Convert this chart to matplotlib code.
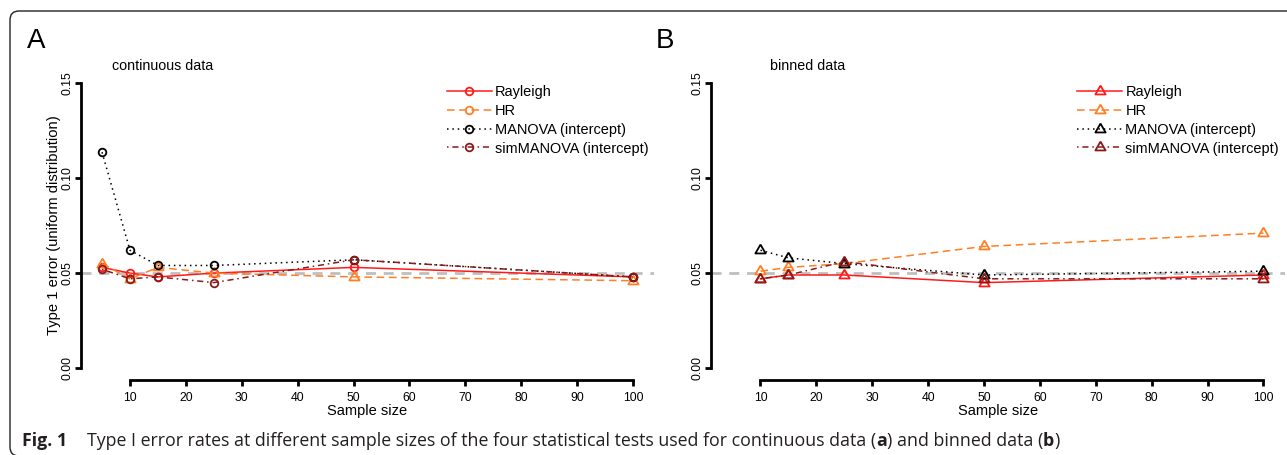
import matplotlib
matplotlib.use("Agg")
import matplotlib.pyplot as plt
from matplotlib.lines import Line2D
from matplotlib.patches import FancyBboxPatch
from matplotlib.transforms import IdentityTransform

# ---------------- data ----------------
sizes_cont = [5, 10, 15, 25, 50, 100]
cont_rayleigh = [0.053, 0.050, 0.048, 0.050, 0.053, 0.048]
cont_hr = [0.055, 0.047, 0.053, 0.050, 0.048, 0.046]
cont_manova = [0.1135, 0.062, 0.054, 0.054, 0.057, 0.048]
cont_simmanova = [0.052, 0.047, 0.048, 0.045, 0.057, 0.048]

sizes_bin = [10, 15, 25, 50, 100]
bin_rayleigh = [0.047, 0.049, 0.049, 0.045, 0.049]
bin_hr = [0.051, 0.053, 0.055, 0.064, 0.071]
bin_manova = [0.062, 0.058, 0.055, 0.049, 0.051]
bin_simmanova = [0.047, 0.049, 0.056, 0.047, 0.047]

series_names = ["Rayleigh", "HR", "MANOVA (intercept)", "simMANOVA (intercept)"]
x_ticks = [10, 20, 30, 40, 50, 60, 70, 80, 90, 100]
y_ticks = [0.00, 0.05, 0.10, 0.15]
y_ticklabels = ["0.00", "0.05", "0.10", "0.15"]
alpha_level = 0.05

# ---------------- style ----------------
colors = ["#FF1A1A", "#FF7F24", "#000000", "#8B1A1A"]
styles = ["-", (0, (5, 3)), (0, (1, 2.5)), (0, (1, 2.5, 4, 2.5))]
TRI = [(0, 1.5551), (1.3468, -0.7776), (-1.3468, -0.7776), (0, 1.5551)]
CIRC_MS = 5.5
TRI_MS = 8.5

plt.rcParams["font.family"] = ["Liberation Sans", "DejaVu Sans"]

W, H = 1287, 455
fig = plt.figure(figsize=(W / 100, H / 100), dpi=100)

ax_left_px = [80.8, 711.3]
ax_w_px = 573.4
ax_bottom = 1 - 379.7 / H
ax_h = (379.7 - 71.3) / H

panels = [
    ("A", "continuous data", sizes_cont,
     [cont_rayleigh, cont_hr, cont_manova, cont_simmanova],
     ["o", TRI, "o", "o"], ["o", "o", "o", "o"], 0.0544, 27),
    ("B", "binned data", sizes_bin,
     [bin_rayleigh, bin_hr, bin_manova, bin_simmanova],
     [TRI, TRI, TRI, TRI], [TRI, TRI, TRI, TRI], 0.1024, 656),
]

for i, (letter, subtitle, xs, ys_list, mk_plot, mk_leg, sub_x, letter_px) in enumerate(panels):
    ax = fig.add_axes([ax_left_px[i] / W, ax_bottom, ax_w_px / W, ax_h])
    ax.axhline(alpha_level, color="#BEBEBE", lw=2, ls=(0, (3.6, 2.8)), zorder=1)
    for ys, c, ls, mk in zip(ys_list, colors, styles, mk_plot):
        ms = CIRC_MS if mk == "o" else TRI_MS
        ax.plot(xs, ys, color=c, ls=ls, lw=1.1, marker=mk, ms=ms,
                mfc="none", mec=c, mew=1.3, zorder=3)
    ax.set_xlim(1.2, 103.8)
    ax.set_ylim(-0.006, 0.156)
    for s in ["top", "right"]:
        ax.spines[s].set_visible(False)
    ax.spines["left"].set_bounds(0, 0.15)
    ax.spines["bottom"].set_bounds(10, 100)
    for s in ["left", "bottom"]:
        ax.spines[s].set_linewidth(2)
    ax.set_xticks(x_ticks)
    ax.set_yticks(y_ticks)
    ax.set_yticklabels(y_ticklabels, rotation=90, va="center")
    ax.tick_params(axis="both", width=2, length=4.5, labelsize=8.8)
    ax.tick_params(axis="x", pad=4.5)
    ax.tick_params(axis="y", pad=1)
    ax.set_xlabel("Sample size", fontsize=10.5, va="center")
    ax.xaxis.set_label_coords(0.5, -0.100)
    if i == 0:
        ax.set_ylabel("Type 1 error (uniform distribution)", fontsize=10.6,
                      va="center", ha="center")
        ax.yaxis.set_label_coords(-0.0467, 0.5)
    ax.text(sub_x, 1.017, subtitle, transform=ax.transAxes, fontsize=10.3,
            ha="left", va="center")
    handles = []
    for c, ls, mk in zip(colors, styles, mk_leg):
        ms = CIRC_MS if mk == "o" else TRI_MS
        handles.append(Line2D([], [], color=c, ls=ls, lw=1.1, marker=mk, ms=ms,
                              mfc="none", mec=c, mew=1.3))
    ax.legend(handles, series_names, loc="upper left",
              bbox_to_anchor=(0.6386, 0.955), frameon=False, fontsize=10.45,
              borderpad=0, borderaxespad=0, handlelength=3.1,
              handletextpad=0.2, labelspacing=0.33, numpoints=1)
    fig.text(letter_px / W, 1 - 48 / H, letter, fontsize=20, ha="left",
             va="baseline")

# rounded frame
frame = FancyBboxPatch((10, -1), 1320, 445, boxstyle="round,pad=0,rounding_size=9",
                       transform=IdentityTransform(), fill=False,
                       ec="#222222", lw=1.0)
fig.patches.append(frame)

# caption with mixed weights (size fitted to the reference width)
renderer = fig.canvas.get_renderer()
cap_font = ["Open Sans", "DejaVu Sans"]
fig_label = "Fig. 1"
pieces = [("Type I error rates at different sample sizes of the four "
           "statistical tests used for continuous data (", "normal"),
          ("a", "bold"), (") and binned data (", "normal"),
          ("b", "bold"), (")", "normal")]


def width_px(s, size, wt):
    t = fig.text(0, 0, s, family=cap_font, fontsize=size, weight=wt)
    w = t.get_window_extent(renderer).width
    t.remove()
    return w


base = 10.0
tot = sum(width_px(s.strip(), base, wt) for s, wt in pieces)
sp_base = width_px("x x", base, "normal") - width_px("xx", base, "normal")
tot += 2 * sp_base
cap_size = base * (1071.0 - 87.0) / tot
space_px = width_px("x x", cap_size, "normal") - width_px("xx", cap_size, "normal")

y_base = 1 - 446 / H
fig.text(22 / W, y_base, fig_label, family=cap_font, fontsize=cap_size,
         weight="bold", ha="left", va="baseline", color="#231F20")
x_px = 87.0
for txt, wt in pieces:
    lead = len(txt) - len(txt.lstrip(" "))
    trail = len(txt) - len(txt.rstrip(" "))
    x_px += lead * space_px
    t = fig.text(x_px / W, y_base, txt.strip(" "), family=cap_font, fontsize=cap_size,
                 weight=wt, ha="left", va="baseline", color="#231F20")
    x_px = t.get_window_extent(renderer).x1 + trail * space_px

fig.savefig("out.png", dpi=100)
